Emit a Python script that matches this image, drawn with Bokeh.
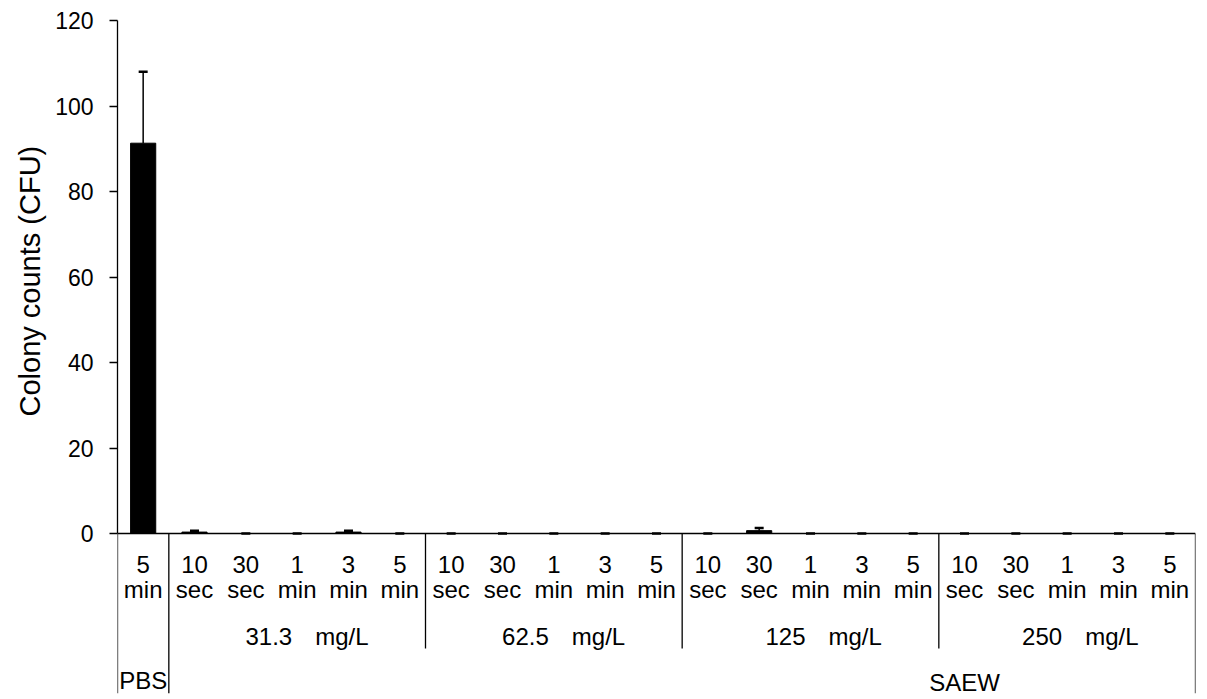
from bokeh.plotting import figure
from bokeh.models import Range1d, FixedTicker, ColumnDataSource, Whisker, TeeHead, Title
from bokeh.embed import file_html
from bokeh.resources import INLINE
from bokeh.core.properties import value

# ---------------- data ----------------
control_label = "PBS"
treatment_label = "SAEW"
control_time_num = ["5"]
control_time_unit = ["min"]
time_num = ["10", "30", "1", "3", "5"]
time_unit = ["sec", "sec", "min", "min", "min"]
concentrations = ["31.3", "62.5", "125", "250"]
conc_unit = "mg/L"

pbs_mean = [91.3]
pbs_sd = [16.7]
mean_31_3 = [0.33, 0.0, 0.0, 0.33, 0.0]
sd_31_3 = [0.3, 0.0, 0.0, 0.3, 0.0]
mean_62_5 = [0.0, 0.0, 0.0, 0.0, 0.0]
sd_62_5 = [0.0, 0.0, 0.0, 0.0, 0.0]
mean_125 = [0.0, 0.67, 0.0, 0.0, 0.0]
sd_125 = [0.0, 0.6, 0.0, 0.0, 0.0]
mean_250 = [0.0, 0.0, 0.0, 0.0, 0.0]
sd_250 = [0.0, 0.0, 0.0, 0.0, 0.0]

y_ticks = [0, 20, 40, 60, 80, 100, 120]
y_label = "Colony counts (CFU)"

# ---------------- assemble ----------------
means = pbs_mean + mean_31_3 + mean_62_5 + mean_125 + mean_250
sds = pbs_sd + sd_31_3 + sd_62_5 + sd_125 + sd_250
n = len(means)
xs = [i + 0.5 for i in range(n)]
nums = control_time_num + time_num * len(concentrations)
units = control_time_unit + time_unit * len(concentrations)

src = ColumnDataSource(dict(x=xs, top=means, upper=[m + s for m, s in zip(means, sds)],
                            num=nums, unit=units))

# layout geometry
W, H = 1199, 695
LEFT, RIGHT, TOP, BOTTOM = 117, 4, 20, 2
PX = 513.0 / 120.0          # pixels per data unit (y)
frame_h = H - TOP - BOTTOM
y_top = 120
y_bot = y_top - frame_h / PX


def below(px):
    """data y for a point px pixels below the zero line"""
    return -px / PX


FONT = value("Liberation Sans")

p = figure(width=W, height=H, output_backend="svg", toolbar_location=None,
           x_range=Range1d(0, n), y_range=Range1d(y_bot, y_top),
           x_axis_type=None, min_border_left=LEFT, min_border_right=RIGHT,
           min_border_top=TOP, min_border_bottom=BOTTOM)
p.outline_line_color = None
p.grid.visible = False
p.background_fill_color = "white"
p.border_fill_color = "white"

# y axis
ax = p.yaxis[0]
ax.bounds = (y_ticks[0], y_ticks[-1])
ax.ticker = FixedTicker(ticks=y_ticks)
ax.major_tick_in = 0
ax.major_tick_out = 8
ax.minor_tick_in = 0
ax.minor_tick_out = 0
ax.axis_line_color = "black"
ax.axis_line_width = 1.3
ax.major_tick_line_color = "black"
ax.major_tick_line_width = 1.3
ax.major_label_standoff = 16
ax.major_label_text_font = "Liberation Sans"
ax.major_label_text_font_size = "23px"
ax.major_label_text_color = "black"

# y title, placed next to the 0-120 span (offset from the panel bottom)
p.add_layout(Title(text=y_label, align="left", offset=277,
                   text_font="Liberation Sans", text_font_size="29px",
                   text_font_style="normal", text_color="black", standoff=14), "left")

# bars
p.vbar(x="x", top="top", bottom=0, width=0.49, source=src,
       fill_color="black", line_color="black")

# x axis line and cell borders
ngroup = len(time_num)
long_x = [0, 1, n]
p.segment(x0=[0], y0=[0], x1=[n], y1=[0], line_color="black", line_width=1.3)
p.segment(x0=long_x, y0=[0] * 3, x1=long_x, y1=[y_bot] * 3,
          line_color="black", line_width=1.3)
short_x = [1 + ngroup * (k + 1) for k in range(len(concentrations) - 1)]
p.segment(x0=short_x, y0=[0] * len(short_x), x1=short_x,
          y1=[below(115)] * len(short_x), line_color="black", line_width=1.3)

# error bars (plus direction)
wh = Whisker(base="x", lower="top", upper="upper", source=src, dimension="height",
             line_color="black", line_width=1.5,
             upper_head=TeeHead(size=9, line_color="black", line_width=2.5),
             lower_head=None)
p.add_layout(wh)

TXT = dict(text_font=FONT, text_font_size="24px", text_baseline="middle",
           text_color="black")

# category labels
p.text(x="x", y=below(30.5), text="num", source=src, text_align="center", **TXT)
p.text(x="x", y=below(56), text="unit", source=src, text_align="center", **TXT)

# concentration labels
centers = [1 + ngroup * k + ngroup / 2 for k in range(len(concentrations))]
p.text(x=centers, y=[below(103)] * len(centers), text=concentrations,
       text_align="right", x_offset=-5, **TXT)
p.text(x=centers, y=[below(103)] * len(centers), text=[conc_unit] * len(centers),
       text_align="left", x_offset=18, **TXT)

# treatment labels
p.text(x=[0.5], y=[below(147)], text=[control_label], text_align="center", **TXT)
p.text(x=[16.5], y=[below(149)], text=[treatment_label], text_align="center", **TXT)

open("out.html", "w").write(file_html(p, INLINE))
